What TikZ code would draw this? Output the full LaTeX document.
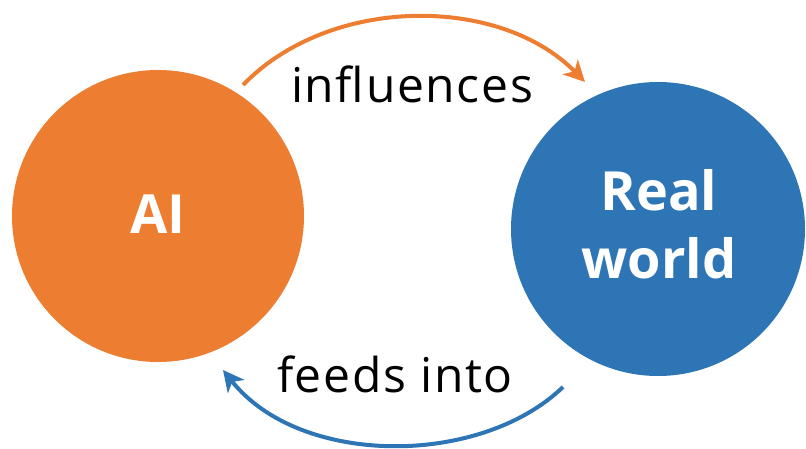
\documentclass[tikz,border=0pt]{standalone}
\usepackage{fontspec}
\setmainfont{Open Sans}
\newfontfamily\labelfont[LetterSpace=3.5]{Open Sans}
\usetikzlibrary{arrows.meta}
\definecolor{aiorange}{HTML}{ED7D31}
\definecolor{rwblue}{HTML}{2E75B6}
\tikzset{
  bigcircle/.style={circle, inner sep=0pt},
  circtext/.style={text=white, font=\fontsize{54}{60}\selectfont\bfseries, inner sep=0pt, anchor=base},
  arclabel/.style={font=\labelfont\fontsize{48}{54}\selectfont, text=black, inner sep=0pt, anchor=base},
  arc/.style={line width=4pt, -{Stealth[length=21pt, width=21pt, inset=6pt]}}
}
\begin{document}
\begin{tikzpicture}[x=1pt, y=1pt]
\useasboundingbox (0,0) rectangle (806,448);
\node[bigcircle, fill=aiorange, minimum size=292pt] (ai) at (158,232) {};
\node[bigcircle, fill=rwblue, minimum size=294pt] (rw) at (658,219) {};
\node[circtext] (aitext) at (158,215) {AI};
\node[circtext] (real) at (659,237) {Real};
\node[circtext] (world) at (659,170) {world};
\node[arclabel] (inf) at (412,345) {influences};
\node[arclabel] (feed) at (395,56) {feeds into};
\coordinate (t1) at (243,363);
\coordinate (t2) at (585,366);
\coordinate (b1) at (563,61);
\coordinate (b2) at (223,78);
\draw[arc, aiorange] (t1) .. controls (330,453) and (500,453) .. (t2);
\draw[arc, rwblue] (b1) .. controls (480,-19) and (300,-19) .. (b2);
\end{tikzpicture}
\end{document}
